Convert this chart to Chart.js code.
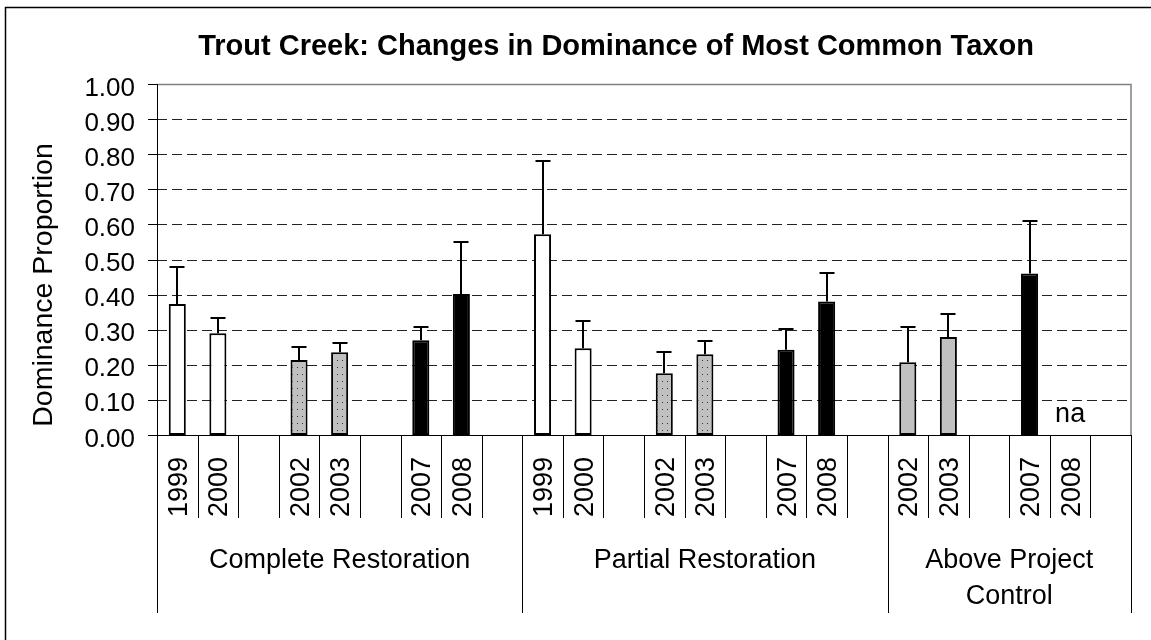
<!DOCTYPE html>
<html>
<head>
<meta charset="utf-8">
<script src="https://cdn.jsdelivr.net/npm/chart.js@4.4.1/dist/chart.umd.min.js"></script>
<style>
  html, body { margin: 0; padding: 0; background: #fff; }
  canvas { display: block; }
</style>
</head>
<body>
<canvas id="chart" width="1151" height="640"></canvas>
<script>
// ---- data ----
const years = [
  "1999", "2000", "", "2002", "2003", "", "2007", "2008", "",
  "1999", "2000", "", "2002", "2003", "", "2007", "2008", "",
  "2002", "2003", "", "2007", "2008", ""
];
const dominance = [
  0.373, 0.290, null, 0.214, 0.236, null, 0.270, 0.402, null,
  0.572, 0.247, null, 0.176, 0.230, null, 0.243, 0.380, null,
  0.207, 0.279, null, 0.460, null, null
];
const errorPlus = [
  0.105, 0.044, null, 0.038, 0.027, null, 0.038, 0.148, null,
  0.208, 0.078, null, 0.060, 0.039, null, 0.058, 0.081, null,
  0.101, 0.067, null, 0.150, null, null
];
// fill kind of each bar: open (white), dotted (grey stipple), solid (black), grey
const barKind = [
  "open", "open", "", "dotted", "dotted", "", "solid", "solid", "",
  "open", "open", "", "dotted", "dotted", "", "solid", "solid", "",
  "grey", "grey", "", "solid", "solid", ""
];
const groupNames = [["Complete Restoration"], ["Partial Restoration"], ["Above Project", "Control"]];
const groupSizes = [9, 9, 6];
const naSlots = [22];
const yTicks = [0, 0.1, 0.2, 0.3, 0.4, 0.5, 0.6, 0.7, 0.8, 0.9, 1.0];

const FONT = '"Liberation Sans", Arial, sans-serif';
const canvas = document.getElementById("chart");
const ctx = canvas.getContext("2d");

function stipple(c) {
  const tile = document.createElement("canvas");
  tile.width = 5; tile.height = 7;
  const g = tile.getContext("2d");
  g.fillStyle = "#c0c0c0";
  g.fillRect(0, 0, 5, 7);
  g.fillStyle = "#333";
  g.fillRect(2, 3, 1, 1);
  return c.createPattern(tile, "repeat");
}

const fills = { open: "#ffffff", dotted: stipple(ctx), solid: "#000000", grey: "#c0c0c0", "": "#ffffff" };

// everything around the bars: grid, axes, labels, error bars, title
const excelFrame = {
  id: "excelFrame",
  beforeDatasetsDraw(chart) {
    const { ctx, chartArea: a, scales: { y } } = chart;
    ctx.save();
    // dashed gridlines
    ctx.strokeStyle = "#222";
    ctx.lineWidth = 1;
    ctx.setLineDash([10, 5]);
    yTicks.forEach(v => {
      if (v <= 0 || v >= 1) return;
      const py = Math.round(y.getPixelForValue(v)) + 0.5;
      ctx.beginPath();
      ctx.moveTo(a.left, py);
      ctx.lineTo(a.right, py);
      ctx.stroke();
    });
    ctx.setLineDash([]);
    // grey plot border top / right
    ctx.strokeStyle = "#808080";
    ctx.lineWidth = 1.5;
    ctx.beginPath();
    ctx.moveTo(a.left, a.top + 0.5);
    ctx.lineTo(a.right, a.top + 0.5);
    ctx.lineTo(a.right, a.bottom);
    ctx.stroke();
    ctx.restore();
  },
  afterDatasetsDraw(chart) {
    const { ctx, chartArea: a, scales: { x, y } } = chart;
    const slot = (a.right - a.left) / years.length;
    ctx.save();

    // error bars (upper only)
    ctx.strokeStyle = "#000";
    ctx.lineWidth = 2;
    dominance.forEach((v, i) => {
      if (v == null || errorPlus[i] == null) return;
      const px = Math.round(x.getPixelForValue(i));
      const yb = y.getPixelForValue(v);
      const yt = Math.round(y.getPixelForValue(v + errorPlus[i]));
      ctx.beginPath();
      ctx.moveTo(px, yb);
      ctx.lineTo(px, yt);
      ctx.moveTo(px - 7.5, yt);
      ctx.lineTo(px + 7.5, yt);
      ctx.stroke();
    });

    // y axis line + tick marks + labels
    ctx.lineWidth = 1;
    ctx.beginPath();
    ctx.moveTo(a.left + 0.5, a.top);
    ctx.lineTo(a.left + 0.5, a.bottom);
    yTicks.forEach(v => {
      const py = Math.round(y.getPixelForValue(v)) + 0.5;
      ctx.moveTo(a.left - 9, py);
      ctx.lineTo(a.left, py);
    });
    ctx.stroke();
    ctx.fillStyle = "#000";
    ctx.font = "26px " + FONT;
    ctx.textAlign = "right";
    ctx.textBaseline = "alphabetic";
    yTicks.forEach(v => {
      ctx.fillText(v.toFixed(2), a.left - 22, y.getPixelForValue(v) + 11.5);
    });

    // x axis line and category separators
    ctx.beginPath();
    ctx.moveTo(a.left, a.bottom + 0.5);
    ctx.lineTo(a.right, a.bottom + 0.5);
    const groupEdges = [0];
    groupSizes.forEach(n => groupEdges.push(groupEdges[groupEdges.length - 1] + n));
    for (let i = 0; i <= years.length; i++) {
      const px = Math.round(a.left + i * slot) + 0.5;
      const long = groupEdges.includes(i);
      ctx.moveTo(px, a.bottom);
      ctx.lineTo(px, long ? 613 : 518);
    }
    ctx.stroke();

    // rotated year labels
    ctx.font = "27px " + FONT;
    ctx.textAlign = "right";
    years.forEach((t, i) => {
      if (!t) return;
      ctx.save();
      ctx.translate(x.getPixelForValue(i) + 9.5, 457);
      ctx.rotate(-Math.PI / 2);
      ctx.fillText(t, 0, 0);
      ctx.restore();
    });

    // group labels
    ctx.textAlign = "center";
    groupNames.forEach((lines, g) => {
      const cx = a.left + (groupEdges[g] + groupEdges[g + 1]) / 2 * slot;
      lines.forEach((t, k) => ctx.fillText(t, cx, 568 + k * 36));
    });

    // "na" for missing sample
    naSlots.forEach(i => ctx.fillText("na", x.getPixelForValue(i), 422));

    // y axis title
    ctx.save();
    ctx.font = "28.5px " + FONT;
    ctx.translate(52, 285);
    ctx.rotate(-Math.PI / 2);
    ctx.fillText("Dominance Proportion", 0, 0);
    ctx.restore();

    // chart title
    ctx.font = "bold 29px " + FONT;
    ctx.fillText("Trout Creek: Changes in Dominance of Most Common Taxon", 616, 55);

    // outer chart border
    ctx.lineWidth = 1.5;
    ctx.strokeRect(5.5, 7.5, 1200, 700);
    ctx.restore();
  }
};

new Chart(ctx, {
  type: "bar",
  data: {
    labels: years,
    datasets: [{
      data: dominance,
      backgroundColor: barKind.map(k => fills[k]),
      borderColor: "#000",
      borderWidth: 2,
      borderSkipped: false,
      barPercentage: 0.42,
      categoryPercentage: 1,
    }],
  },
  options: {
    responsive: false,
    animation: false,
    devicePixelRatio: 1,
    layout: { padding: { left: 157, top: 84, right: 20, bottom: 205 } },
    plugins: { legend: { display: false }, tooltip: { enabled: false }, title: { display: false } },
    scales: {
      x: { display: false },
      y: { display: false, min: 0, max: 1 },
    },
  },
  plugins: [excelFrame],
});
</script>
</body>
</html>
